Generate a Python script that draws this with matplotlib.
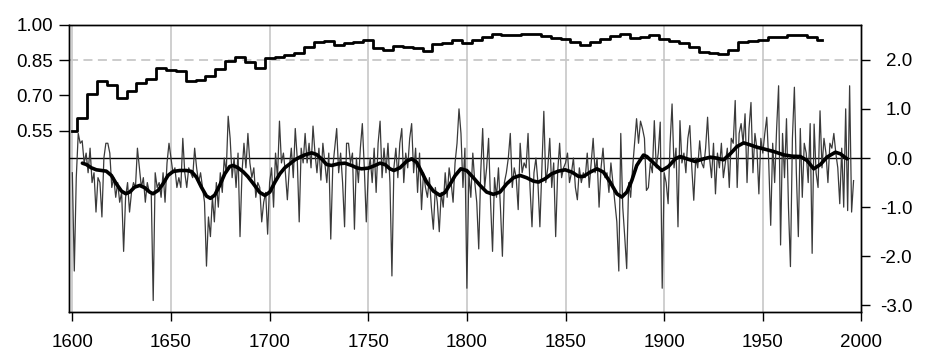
import numpy as np
import matplotlib
matplotlib.use("Agg")
import matplotlib.pyplot as plt

plt.rcParams['font.family'] = ['Liberation Sans', 'DejaVu Sans']
plt.rcParams['axes.unicode_minus'] = False

# EPS (5-year steps)
eps_years = list(range(1600, 1981, 5))
eps = [0.547, 0.603, 0.705, 0.762, 0.745, 0.690, 0.720, 0.752, 0.770, 0.817,
       0.810, 0.805, 0.763, 0.767, 0.783, 0.813, 0.847, 0.865, 0.844, 0.816,
       0.858, 0.865, 0.872, 0.881, 0.908, 0.926, 0.933, 0.915, 0.925, 0.928,
       0.936, 0.904, 0.894, 0.909, 0.906, 0.900, 0.889, 0.921, 0.925, 0.936,
       0.922, 0.936, 0.950, 0.962, 0.959, 0.959, 0.962, 0.962, 0.953, 0.946,
       0.939, 0.926, 0.915, 0.929, 0.940, 0.955, 0.960, 0.943, 0.950, 0.957,
       0.939, 0.933, 0.922, 0.908, 0.884, 0.880, 0.875, 0.894, 0.926, 0.930,
       0.936, 0.948, 0.950, 0.959, 0.959, 0.950, 0.938]

# annual index values, 1600-1996
annual_years = list(range(1600, 1997))
annual = [
    -0.3, -2.3, -0.4, 0.5, 0.3, 0.35, -0.1, 0.1, -0.3, 0.2,
    -0.5, -0.3, -1.1, -0.4, -0.5, -1.2, 0.0, 0.3, 0.3, 0.1,
    -0.6, -0.4, -0.8, -0.5, -0.9, -0.7, -1.9, -0.8, -0.5, -1.1,
    -0.7, -0.5, -0.6, 0.2, -0.2, -0.6, -0.4, -0.9, -0.5, -0.7,
    -0.7, -2.9, -0.3, -0.6, -0.5, -0.8, -0.3, -0.9, -0.1, 0.3,
    0.0, -0.3, -0.2, -0.6, -0.4, -0.6, 0.4, -0.3, -0.6, -0.2,
    -0.3, -0.4, 0.2, -0.2, -0.5, -0.3, -0.6, -0.9, -2.2, -1.2,
    -1.6, -0.8, -1.3, -0.5, -1.0, -0.3, -0.7, 0.0, -0.3, 0.85,
    0.4, -0.4, 0.0, -0.6, 0.1, -1.6, -0.3, 0.3, -0.2, 0.5,
    -0.1, -0.4, -0.2, -0.8, -0.5, -0.6, -1.3, -0.9, -0.7, -1.55,
    -0.5, -0.2, -1.0, 0.1, -0.4, 0.75, -0.1, 0.1, -0.3, -0.85,
    -0.2, 0.2, -0.4, 0.6, 0.0, -1.3, 0.2, -0.1, 0.5, -0.1,
    0.3, -0.2, 0.65, 0.1, -0.3, 0.2, -0.45, 0.3, -0.1, -0.5,
    0.1, -1.65, -0.2, 0.2, 0.6, -0.3, 0.1, -0.5, -1.4, 0.3,
    0.3, -0.1, 0.1, -1.45, 0.0, -0.5, 0.2, 0.7, -0.2, -1.3,
    -0.3, 0.0, -0.5, 0.2, -0.7, 0.3, 0.75, -0.4, 0.2, -0.3,
    0.3, -0.5, -2.4, -0.2, 0.2, -0.4, 0.3, 0.6, -0.5, 0.1,
    -0.2, 0.4, 0.7, -0.3, 0.2, -0.7, 0.1, -1.05, -0.3, -0.6,
    -0.8, -0.4, -1.0, -1.45, -0.6, -0.9, -1.5, -0.7, -1.0, -0.3,
    -0.8, -0.2, -0.5, -0.9, -0.1, 0.3, 1.0, 0.5, -0.6, 0.2,
    -2.65, -0.3, -0.8, 0.1, -0.5, -0.9, -1.85, -0.3, 0.6, -0.6,
    -0.2, 0.4, -0.9, -1.9, -0.4, -0.8, -0.2, -1.0, -2.0, -0.5,
    -0.3, 0.0, 0.5, -0.6, -0.2, -0.4, -1.05, 0.3, -0.3, -0.1,
    -0.2, 0.5, -0.6, -1.4, -0.3, 0.0, -0.5, -1.4, -0.2, 0.95,
    -0.5, -0.2, 0.4, -0.6, -0.1, -1.6, -0.3, 0.3, -0.4, -0.2,
    -0.1, 0.1, -0.5, -0.3, 0.0, -0.6, -0.85, -0.2, -0.5, -0.3,
    -0.4, 0.1, -0.6, -0.1, 0.4, -0.3, 0.0, -1.0, -0.2, 0.2,
    -0.4, -0.3, -0.7, -0.1, -0.5, -0.9, -1.3, -2.3, 0.5, -1.0,
    -1.6, -2.25, -0.5, -0.8, -0.2, 0.3, 0.8, 0.3, 0.75, 0.6,
    0.4, -0.66, -0.6, -0.1, -0.3, 0.76, -0.2, 0.1, 0.73, -2.65,
    -0.3, -0.5, -0.93, 0.3, 1.1, -0.2, 0.2, -1.4, 0.76, -0.1,
    0.1, -0.3, 0.4, 0.66, -0.2, -0.86, 0.0, -0.2, 0.35, -0.1,
    -0.2, 0.2, 0.83, 0.0, -0.4, 0.3, -0.73, 0.1, -0.2, 0.3,
    -0.4, -0.1, 0.2, -0.6, 0.4, 0.3, 1.17, -0.6, 0.5, 0.7,
    0.3, 0.9, -0.5, 0.6, 1.13, -0.3, 0.5, 0.2, -0.73, 0.4,
    0.1, 0.5, 0.83, -0.1, -1.37, 0.3, -0.5, 0.6, 1.47, -1.77,
    0.5, -0.4, 0.8, -1.0, -2.21, 0.4, 1.44, -0.3, -1.6, 0.6,
    -0.8, 0.3, 0.1, -0.5, 0.7, -1.94, 0.69, -0.3, -0.6, 0.96,
    -0.2, 0.4, 0.1, -0.5, 0.3, 0.2, 0.5, 0.1, -0.2, -0.93,
    0.2, -1.0, 1.0, -1.07, 1.47, -1.1, -0.46,
]

# smoothed curve
smooth_years = [
    1605.1, 1607.1, 1609.6, 1612.2, 1614.7, 1617.2, 1619.8, 1622.3, 1624.9, 1627.1,
    1629.1, 1631.6, 1634.2, 1636.7, 1639.2, 1640.9, 1643.5, 1646.0, 1648.5, 1651.1,
    1654.5, 1657.8, 1660.4, 1662.9, 1665.4, 1668.0, 1670.0, 1672.2, 1674.7, 1677.3,
    1679.8, 1681.5, 1684.0, 1686.6, 1689.0, 1691.7, 1695.0, 1697.6, 1700.1, 1702.7,
    1705.2, 1707.7, 1710.3, 1712.8, 1715.3, 1717.9, 1721.3, 1723.8, 1726.3, 1728.9,
    1731.4, 1734.8, 1738.2, 1741.6, 1744.1, 1746.6, 1750.0, 1753.4, 1755.9, 1758.5,
    1761.0, 1763.0, 1766.1, 1769.5, 1772.0, 1774.5, 1777.1, 1779.6, 1783.0, 1786.4,
    1788.9, 1791.4, 1794.0, 1796.9, 1799.9, 1803.3, 1806.7, 1810.0, 1813.4, 1816.8,
    1820.2, 1823.6, 1827.0, 1830.3, 1833.7, 1836.3, 1839.6, 1843.0, 1846.4, 1849.8,
    1853.2, 1856.6, 1859.1, 1862.5, 1865.9, 1869.2, 1872.6, 1876.0, 1878.5, 1881.1,
    1883.6, 1886.1, 1889.5, 1891.2, 1894.6, 1898.8, 1902.2, 1905.6, 1908.1, 1911.5,
    1915.7, 1920.0, 1923.4, 1926.7, 1930.1, 1933.5, 1936.9, 1940.3, 1943.6, 1947.0,
    1950.4, 1955.5, 1960.6, 1964.8, 1969.0, 1972.4, 1975.8, 1979.2, 1982.5, 1986.8,
    1989.3, 1992.7,
]
smooth = [
    -0.105, -0.132, -0.199, -0.240, -0.254, -0.267, -0.355, -0.524, -0.673, -0.727,
    -0.693, -0.592, -0.558, -0.605, -0.693, -0.727, -0.659, -0.524, -0.355, -0.274,
    -0.254, -0.254, -0.274, -0.389, -0.592, -0.774, -0.821, -0.754, -0.558, -0.321,
    -0.172, -0.152, -0.199, -0.280, -0.380, -0.520, -0.700, -0.761, -0.693, -0.490,
    -0.321, -0.199, -0.118, -0.037, 0.017, 0.064, 0.105, 0.071, -0.017, -0.132,
    -0.152, -0.118, -0.105, -0.152, -0.199, -0.220, -0.206, -0.152, -0.105, -0.132,
    -0.220, -0.254, -0.199, -0.064, -0.017, -0.085, -0.287, -0.490, -0.673, -0.761,
    -0.700, -0.540, -0.360, -0.220, -0.254, -0.402, -0.558, -0.693, -0.740, -0.693,
    -0.524, -0.402, -0.355, -0.402, -0.470, -0.490, -0.423, -0.321, -0.267, -0.240,
    -0.287, -0.375, -0.375, -0.287, -0.220, -0.287, -0.490, -0.727, -0.795, -0.693,
    -0.456, -0.152, 0.060, 0.030, -0.100, -0.254, -0.172, -0.017, 0.030, -0.017,
    -0.071, -0.017, 0.017, -0.003, -0.037, 0.085, 0.233, 0.308, 0.267, 0.220,
    0.186, 0.132, 0.064, 0.037, 0.030, -0.051, -0.220, -0.132, 0.017, 0.118,
    0.085, -0.017,
]

x_ticks = [1600, 1650, 1700, 1750, 1800, 1850, 1900, 1950, 2000]
left_ticks = [0.55, 0.70, 0.85, 1.00]
right_ticks = [-3.0, -2.0, -1.0, 0.0, 1.0, 2.0]

fig = plt.figure(figsize=(9.27, 3.58), dpi=100)
ax = fig.add_axes([0.0744, 0.1293, 0.9293 - 0.0744, 0.9302 - 0.1293])
ax2 = ax.twinx()

ax.set_xlim(1598.3, 2000)
ax.set_ylim(-0.2205, 1.0)
ax2.set_ylim(-3.128, 2.707)

for xt in x_ticks[:-1]:
    ax.axvline(xt, color='#cccccc', lw=1.3, zorder=0)
ax.axhline(0.85, color='#c8c8c8', lw=1.3, ls=(0, (5, 3)), zorder=0)

ax.plot(eps_years, eps, color='black', lw=2.0, drawstyle='steps-mid')

ax2.axhline(0.0, color='black', lw=1.0)
ax2.plot(annual_years, annual, color='#3a3a3a', lw=0.9)
ax2.plot(smooth_years, smooth, color='black', lw=2.6, solid_capstyle='round',
         solid_joinstyle='round')

ax.set_xticks(x_ticks)
ax.set_yticks(left_ticks)
ax.set_yticklabels(['%.2f' % t for t in left_ticks])
ax2.set_yticks(right_ticks)
ax2.set_yticklabels(['%.1f' % t for t in right_ticks])

ax.tick_params(axis='x', direction='out', length=6.5, width=1, labelsize=13.5, pad=9.5)
ax.tick_params(axis='y', direction='out', length=7, width=1, labelsize=13.5, pad=4.5)
ax2.tick_params(axis='y', direction='out', length=6.5, width=1, labelsize=13.5, pad=30)
for lbl in ax2.get_yticklabels():
    lbl.set_horizontalalignment('right')

for a in (ax, ax2):
    for s in a.spines.values():
        s.set_linewidth(1.0)
        s.set_color('black')

fig.savefig('out.png', dpi=100)
